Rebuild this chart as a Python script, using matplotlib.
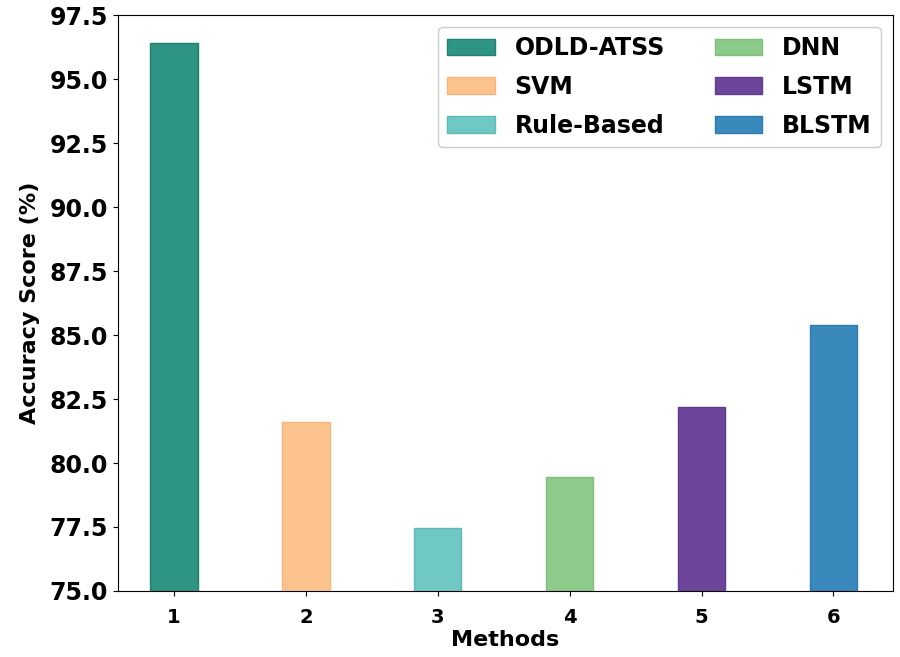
import matplotlib
matplotlib.use("Agg")
import matplotlib.pyplot as plt
import numpy as np

# values
methods = ["ODLD-ATSS", "SVM", "Rule-Based", "DNN", "LSTM", "BLSTM"]
positions = [1, 2, 3, 4, 5, 6]
accuracy = [96.4, 81.6, 77.45, 79.45, 82.2, 85.4]
colors = ["#2e9484", "#fdc38d", "#6fc8c3", "#8dcb8a", "#6d459b", "#3a89bd"]
edges = ["#23806f", "#f5b57e", "#5fbab5", "#7fbf7c", "#5f3a8d", "#2f7bb0"]

fig = plt.figure(figsize=(9, 6.57), dpi=100)
ax = fig.add_axes([0.131, 0.1005, 0.861, 0.8765])

for p, v, c, e, m in zip(positions, accuracy, colors, edges, methods):
    ax.bar(p, v, width=0.36, color=c, edgecolor=e, linewidth=1, label=m)

ax.set_ylim(75, 97.5)
ax.set_xlim(0.575, 6.45)
ax.set_yticks(np.arange(75, 97.6, 2.5))
ax.set_xticks(positions)
ax.tick_params(axis="x", pad=9)
for lab in ax.get_yticklabels():
    lab.set_fontweight("bold")
    lab.set_fontsize(17)
for lab in ax.get_xticklabels():
    lab.set_fontweight("bold")
    lab.set_fontsize(14)

ax.set_xlabel("Methods", fontsize=16, fontweight="bold", labelpad=2)
ax.set_ylabel("Accuracy Score (%)", fontsize=16, fontweight="bold", labelpad=7)

leg = ax.legend(ncol=2, loc="upper right", prop={"weight": "bold", "size": 17},
                handlelength=2.0, handleheight=0.7, handletextpad=0.85,
                columnspacing=2.1, labelspacing=0.62, framealpha=1,
                borderaxespad=0.5)

fig.savefig("out.png", dpi=100)
